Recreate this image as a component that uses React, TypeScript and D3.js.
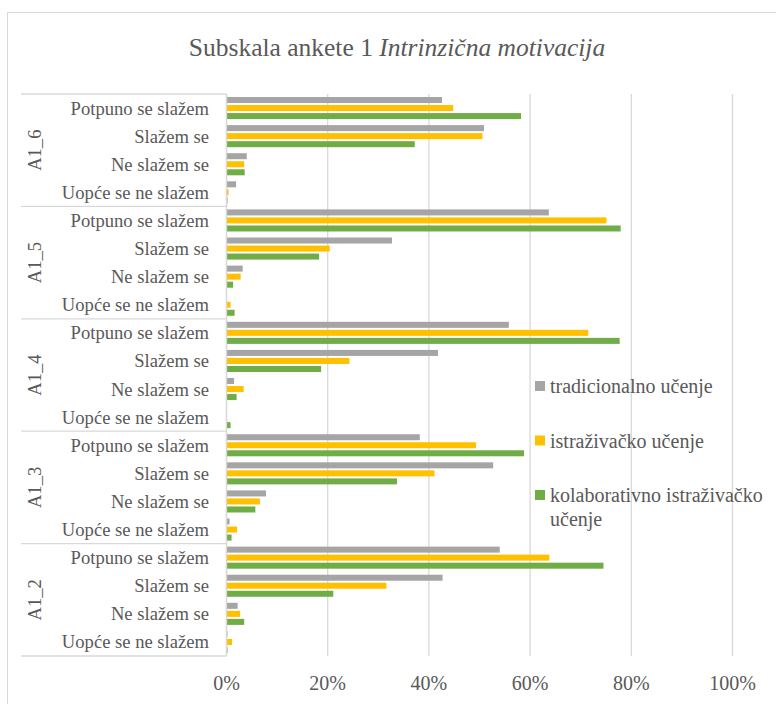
import React from 'react';
import * as d3 from 'd3';

// groups top to bottom, categories top to bottom inside each group
const groups = ['A1_6', 'A1_5', 'A1_4', 'A1_3', 'A1_2'];
const categories = ['Potpuno se slažem', 'Slažem se', 'Ne slažem se', 'Uopće se ne slažem'];
const seriesNames = ['tradicionalno učenje', 'istraživačko učenje', 'kolaborativno istraživačko učenje'];
const seriesColors = ['#A5A5A5', '#FFC000', '#70AD47'];
const ticks = [0, 0.2, 0.4, 0.6, 0.8, 1];

// values in %, one row per group, in category order
const tradicionalno = [
  [42.6, 50.9, 4.0, 1.9],
  [63.7, 32.7, 3.2, 0],
  [55.8, 41.8, 1.5, 0.1],
  [38.2, 52.7, 7.8, 0.6],
  [54.0, 42.7, 2.2, 0.2],
];
const istrazivacko = [
  [44.8, 50.6, 3.5, 0.4],
  [75.1, 20.4, 2.8, 0.8],
  [71.5, 24.3, 3.4, 0.1],
  [49.3, 41.1, 6.6, 2.1],
  [63.8, 31.6, 2.7, 1.1],
];
const kolaborativno = [
  [58.2, 37.2, 3.6, 0.2],
  [77.9, 18.3, 1.3, 1.6],
  [77.7, 18.7, 2.0, 0.8],
  [58.8, 33.7, 5.7, 1.0],
  [74.5, 21.1, 3.5, 0.2],
];

const allSeries = [tradicionalno, istrazivacko, kolaborativno];

const W = 776, H = 704;
const font = "'Times New Roman', Times, Tinos, 'Liberation Serif', 'DejaVu Serif', 'Noto Serif', serif";
const txt = '#595959';
const gridClr = '#D9D9D9';

export default function App() {
  const x = d3.scaleLinear().domain([0, 1]).range([226.5, 732.5]);
  const yGroup = d3.scaleBand().domain(groups).range([94, 656]).padding(0);
  const yCat = d3.scaleBand().domain(categories).range([0, yGroup.bandwidth()]).padding(0);
  const ySer = d3.scaleBand<number>().domain([0, 1, 2]).range([0, yCat.bandwidth()])
    .paddingInner(0.25).paddingOuter(0.375);

  const rows: {g: string, c: string, s: number, v: number}[] = [];
  groups.forEach((g, gi) => categories.forEach((c, ci) => allSeries.forEach((ser, si) => {
    rows.push({g, c, s: si, v: ser[gi][ci] / 100});
  })));

  const y0 = yGroup.range()[0], y1 = yGroup.range()[1];
  const boundaries = groups.map(g => yGroup(g)!).concat([y1]);

  return (
    <svg width={W} height={H} style={{position: 'absolute', left: 0, top: 0, background: '#fff', fontFamily: font}}>
      <rect x={7.5} y={12.5} width={W + 10} height={H + 10} fill="#fff" stroke={gridClr} />

      <text x={397} y={56} textAnchor="middle" fontSize={25.5} fill={txt}>
        Subskala ankete 1 <tspan fontStyle="italic">Intrinzična motivacija</tspan>
      </text>

      {/* gridlines */}
      {ticks.map(t => (
        <line key={t} x1={x(t)} x2={x(t)} y1={y0} y2={y1} stroke={gridClr} strokeWidth={1.3} />
      ))}

      {/* bars */}
      {rows.map((r, i) => (
        <rect key={i} x={x(0)} y={yGroup(r.g)! + yCat(r.c)! + ySer(r.s)!}
          width={x(r.v) - x(0)} height={ySer.bandwidth()} fill={seriesColors[r.s]} />
      ))}

      {/* category axis */}
      <line x1={x(0)} x2={x(0)} y1={y0} y2={y1} stroke={gridClr} strokeWidth={1.3} />
      {boundaries.map((b, i) => (
        <line key={i} x1={21} x2={x(0)} y1={b} y2={b} stroke={gridClr} strokeWidth={1.3} />
      ))}

      {groups.map(g => categories.map(c => (
        <text key={g + c} x={209} y={yGroup(g)! + yCat(c)! + yCat.bandwidth() / 2 + 6.5}
          textAnchor="end" fontSize={18.6} fill={txt}>{c}</text>
      )))}

      {groups.map(g => {
        const cy = yGroup(g)! + yGroup.bandwidth() / 2;
        return (
          <text key={g} transform={`translate(41,${cy}) rotate(-90)`} textAnchor="middle"
            fontSize={18.6} fill={txt}>{g}</text>
        );
      })}

      {/* value axis labels */}
      {ticks.map(t => (
        <text key={t} x={x(t)} y={690} textAnchor="middle" fontSize={20} fill={txt}>
          {d3.format('.0%')(t)}
        </text>
      ))}

      {/* legend */}
      {seriesNames.map((s, i) => {
        const ly = 386 + i * 54.5;
        const parts = i === 2 ? ['kolaborativno istraživačko', 'učenje'] : [s];
        return (
          <g key={s}>
            <rect x={535} y={ly - 5} width={10} height={10} fill={seriesColors[i]} />
            <text x={550} y={ly + 7} fontSize={20} fill={txt}>
              {parts.map((p, j) => (
                <tspan key={j} x={550} dy={j === 0 ? 0 : 24}>{p}</tspan>
              ))}
            </text>
          </g>
        );
      })}
    </svg>
  );
}
